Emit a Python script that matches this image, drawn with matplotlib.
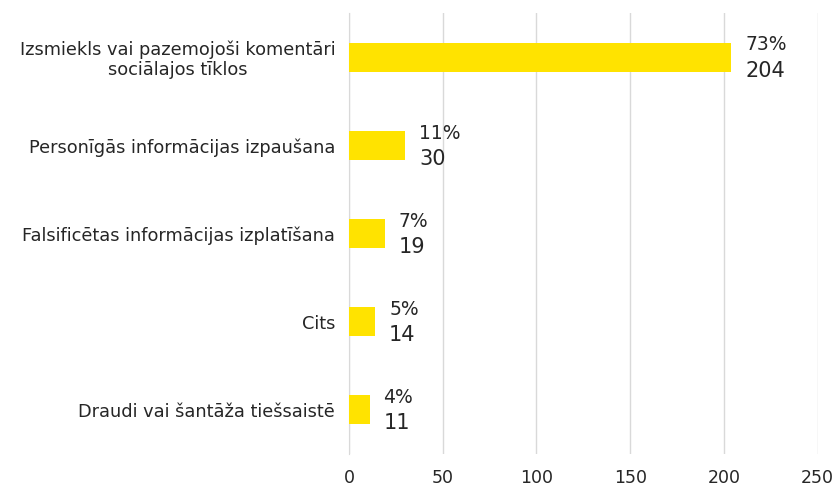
import numpy as np
import matplotlib.pyplot as plt

categories = ["Izsmiekls vai pazemojoši komentāri\nsociālajos tīklos",
              "Personīgās informācijas izpaušana",
              "Falsificētas informācijas izplatīšana",
              "Cits",
              "Draudi vai šantāža tiešsaistē"]
counts = [204, 30, 19, 14, 11]
percents = ["73%", "11%", "7%", "5%", "4%"]
xticks = [0, 50, 100, 150, 200, 250]

BAR = "#FFE300"
TXT = "#262626"

fig = plt.figure(figsize=(8.36, 4.91), dpi=100)
ax = fig.add_axes([0.4175, 0.0754, 0.5605, 0.8981])

y = np.arange(len(categories))
ax.barh(y, counts, height=0.33, color=BAR, zorder=3)
ax.set_ylim(len(categories) - 0.5, -0.5)
ax.set_xlim(0, 250)
ax.set_xticks(xticks)
ax.set_yticks(y)
ax.set_yticklabels(categories, fontsize=12.8, color=TXT)
for t in ax.get_yticklabels():
    t.set_multialignment("center")
    t.set_linespacing(1.1)
ax.tick_params(axis="y", length=0, pad=10)
ax.tick_params(axis="x", length=0, pad=11, labelsize=12.5, labelcolor=TXT)

ax.grid(axis="x", color="#d9d9d9", linewidth=1, zorder=0)
for s in ["top", "right", "bottom"]:
    ax.spines[s].set_visible(False)
ax.spines["left"].set_color("#d9d9d9")

# labels next to each bar
for i in range(len(categories)):
    ax.annotate(percents[i], (counts[i], y[i]), xytext=(10, 2), textcoords="offset points",
                ha="left", va="bottom", fontsize=13.5, color=TXT)
    ax.annotate(str(counts[i]), (counts[i], y[i]), xytext=(10, -2.5), textcoords="offset points",
                ha="left", va="top", fontsize=15, color=TXT)

plt.savefig("out.png", dpi=100)
